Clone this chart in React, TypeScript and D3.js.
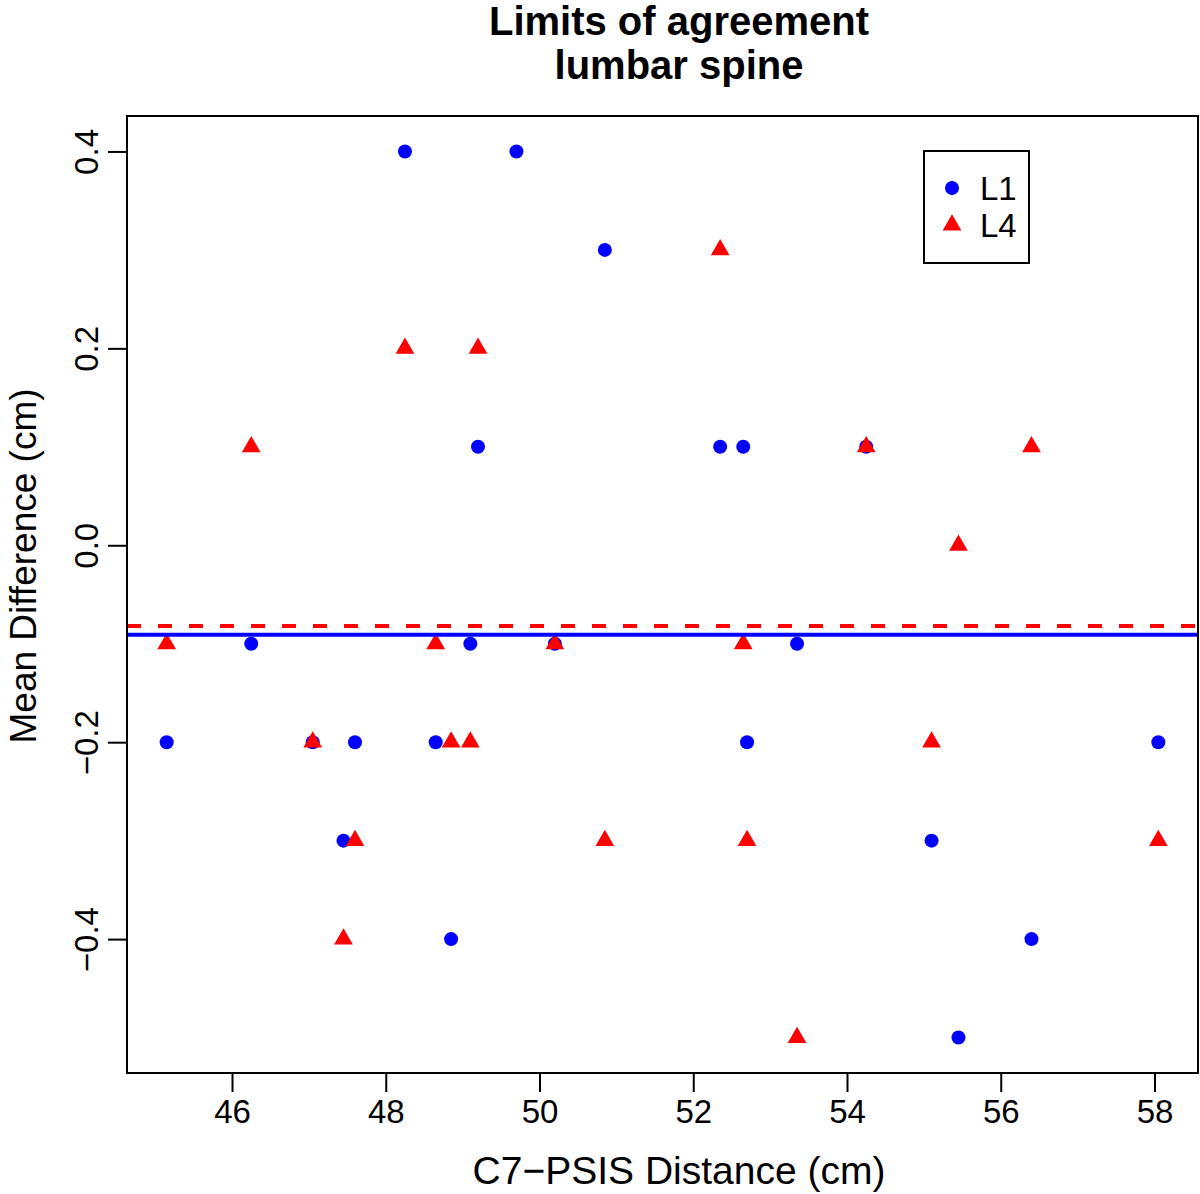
import { useEffect, useRef } from 'react';
import * as d3 from 'd3';

// C7-PSIS distance per subject (cm)
const distance = [45.15, 46.25, 47.05, 47.45, 47.6, 48.25, 48.65, 48.85, 49.1, 49.2, 49.7,
  50.2, 50.85, 52.35, 52.65, 52.7, 53.35, 54.25, 55.1, 55.45, 56.4, 58.05];
// mean difference between raters, L1 level
const diffL1 = [-0.2, -0.1, -0.2, -0.3, -0.2, 0.4, -0.2, -0.4, -0.1, 0.1, 0.4,
  -0.1, 0.3, 0.1, 0.1, -0.2, -0.1, 0.1, -0.3, -0.5, -0.4, -0.2];
// mean difference, L4 level (one subject missing)
const diffL4 = [-0.1, 0.1, -0.2, -0.4, -0.3, 0.2, -0.1, -0.2, -0.2, 0.2, null,
  -0.1, -0.3, 0.3, -0.1, -0.3, -0.5, 0.1, -0.2, 0.0, 0.1, -0.3];
// bias lines drawn across the plot
const biasL1 = -0.091;
const biasL4 = -0.082;

const xTicks = [46, 48, 50, 52, 54, 56, 58];
const yTicks = [-0.4, -0.2, 0, 0.2, 0.4];
const seriesNames = ['L1', 'L4'];

const W = 1200;
const H = 1194;
const margin = { top: 116, right: 2, bottom: 121, left: 127 };
const FONT = '"Liberation Sans", Arial, Helvetica, sans-serif';
const BLUE = '#0000ff';
const RED = '#ff0000';

// R style axis range: data range widened by 4% on each side
const pad = (ext: [number, number]) => {
  const d = (ext[1] - ext[0]) * 0.04;
  return [ext[0] - d, ext[1] + d];
};

export default function App() {
  const ref = useRef<SVGSVGElement>(null);

  useEffect(() => {
    const svg = d3.select(ref.current);
    svg.selectAll('*').remove();

    const allY = [...diffL1, ...diffL4].filter(v => v != null) as number[];
    const x = d3.scaleLinear()
      .domain(pad(d3.extent(distance) as [number, number]))
      .range([margin.left, W - margin.right]);
    const y = d3.scaleLinear()
      .domain(pad(d3.extent(allY) as [number, number]))
      .range([H - margin.bottom, margin.top]);

    const fmt = d3.format('.1f');
    const midX = 679;

    // title
    const title = svg.append('text')
      .attr('text-anchor', 'middle')
      .style('font', `bold 40px ${FONT}`);
    title.append('tspan').attr('x', midX).attr('y', 35).text('Limits of agreement');
    title.append('tspan').attr('x', midX).attr('y', 79).text('lumbar spine');

    // x axis
    const xAxis = svg.append('g')
      .attr('transform', `translate(0,${H - margin.bottom})`)
      .call(d3.axisBottom(x).tickValues(xTicks).tickSize(19).tickPadding(8).tickFormat(d => String(d)));
    xAxis.select('.domain').remove();
    xAxis.selectAll('line').attr('stroke', '#000').attr('stroke-width', 2);
    xAxis.selectAll('text').style('font', `33px ${FONT}`).attr('fill', '#000');

    // y axis with rotated labels
    const yAxis = svg.append('g')
      .attr('transform', `translate(${margin.left},0)`)
      .call(d3.axisLeft(y).tickValues(yTicks).tickSize(19).tickFormat(d => fmt(d as number)));
    yAxis.select('.domain').remove();
    yAxis.selectAll('line').attr('stroke', '#000').attr('stroke-width', 2);
    yAxis.selectAll('text')
      .attr('x', null).attr('dy', null)
      .attr('text-anchor', 'middle')
      .attr('transform', 'translate(-29,0) rotate(-90)')
      .style('font', `33px ${FONT}`).attr('fill', '#000');

    // axis titles
    svg.append('text')
      .attr('x', midX)
      .attr('y', 1184)
      .attr('text-anchor', 'middle')
      .style('font', `39px ${FONT}`)
      .text('C7\u2212PSIS Distance (cm)');
    svg.append('text')
      .attr('transform', 'translate(36,566) rotate(-90)')
      .attr('text-anchor', 'middle')
      .style('font', `37px ${FONT}`)
      .text('Mean Difference (cm)');

    const triangle = d3.symbol(d3.symbolTriangle, 152);

    // points: L1 circles, then L4 triangles on top
    svg.append('g').selectAll('circle')
      .data(distance.map((d, i) => [d, diffL1[i]]))
      .join('circle')
      .attr('cx', d => x(d[0] as number))
      .attr('cy', d => y(d[1] as number))
      .attr('r', 7)
      .attr('fill', BLUE);

    svg.append('g').selectAll('path')
      .data(distance.map((d, i) => [d, diffL4[i]]).filter(d => d[1] != null))
      .join('path')
      .attr('d', triangle)
      .attr('transform', d => `translate(${x(d[0] as number)},${y(d[1] as number)})`)
      .attr('fill', RED);

    // bias lines
    const [x0, x1] = x.range();
    svg.append('line')
      .attr('x1', x0).attr('x2', x1)
      .attr('y1', y(biasL1)).attr('y2', y(biasL1))
      .attr('stroke', BLUE).attr('stroke-width', 4);
    svg.append('line')
      .attr('x1', x0).attr('x2', x1)
      .attr('y1', y(biasL4)).attr('y2', y(biasL4))
      .attr('stroke', RED).attr('stroke-width', 4)
      .attr('stroke-dasharray', '14 17');

    // plot frame
    svg.append('rect')
      .attr('x', margin.left).attr('y', margin.top)
      .attr('width', W - margin.left - margin.right)
      .attr('height', H - margin.top - margin.bottom)
      .attr('fill', 'none').attr('stroke', '#000').attr('stroke-width', 2);

    // legend
    const lg = svg.append('g').attr('transform', 'translate(924,151)');
    lg.append('rect').attr('width', 105).attr('height', 112)
      .attr('fill', 'none').attr('stroke', '#000').attr('stroke-width', 2);
    lg.append('circle').attr('cx', 28).attr('cy', 37).attr('r', 7).attr('fill', BLUE);
    lg.append('path').attr('d', triangle).attr('transform', 'translate(28,74)').attr('fill', RED);
    lg.selectAll('text.lab')
      .data(seriesNames)
      .join('text')
      .attr('class', 'lab')
      .attr('x', 56)
      .attr('y', (d, i) => 49 + i * 37)
      .style('font', `33px ${FONT}`)
      .text(d => d);
  }, []);

  return (
    <svg ref={ref} width={W} height={H}
      style={{ position: 'absolute', left: 0, top: 0, background: '#fff' }} />
  );
}
